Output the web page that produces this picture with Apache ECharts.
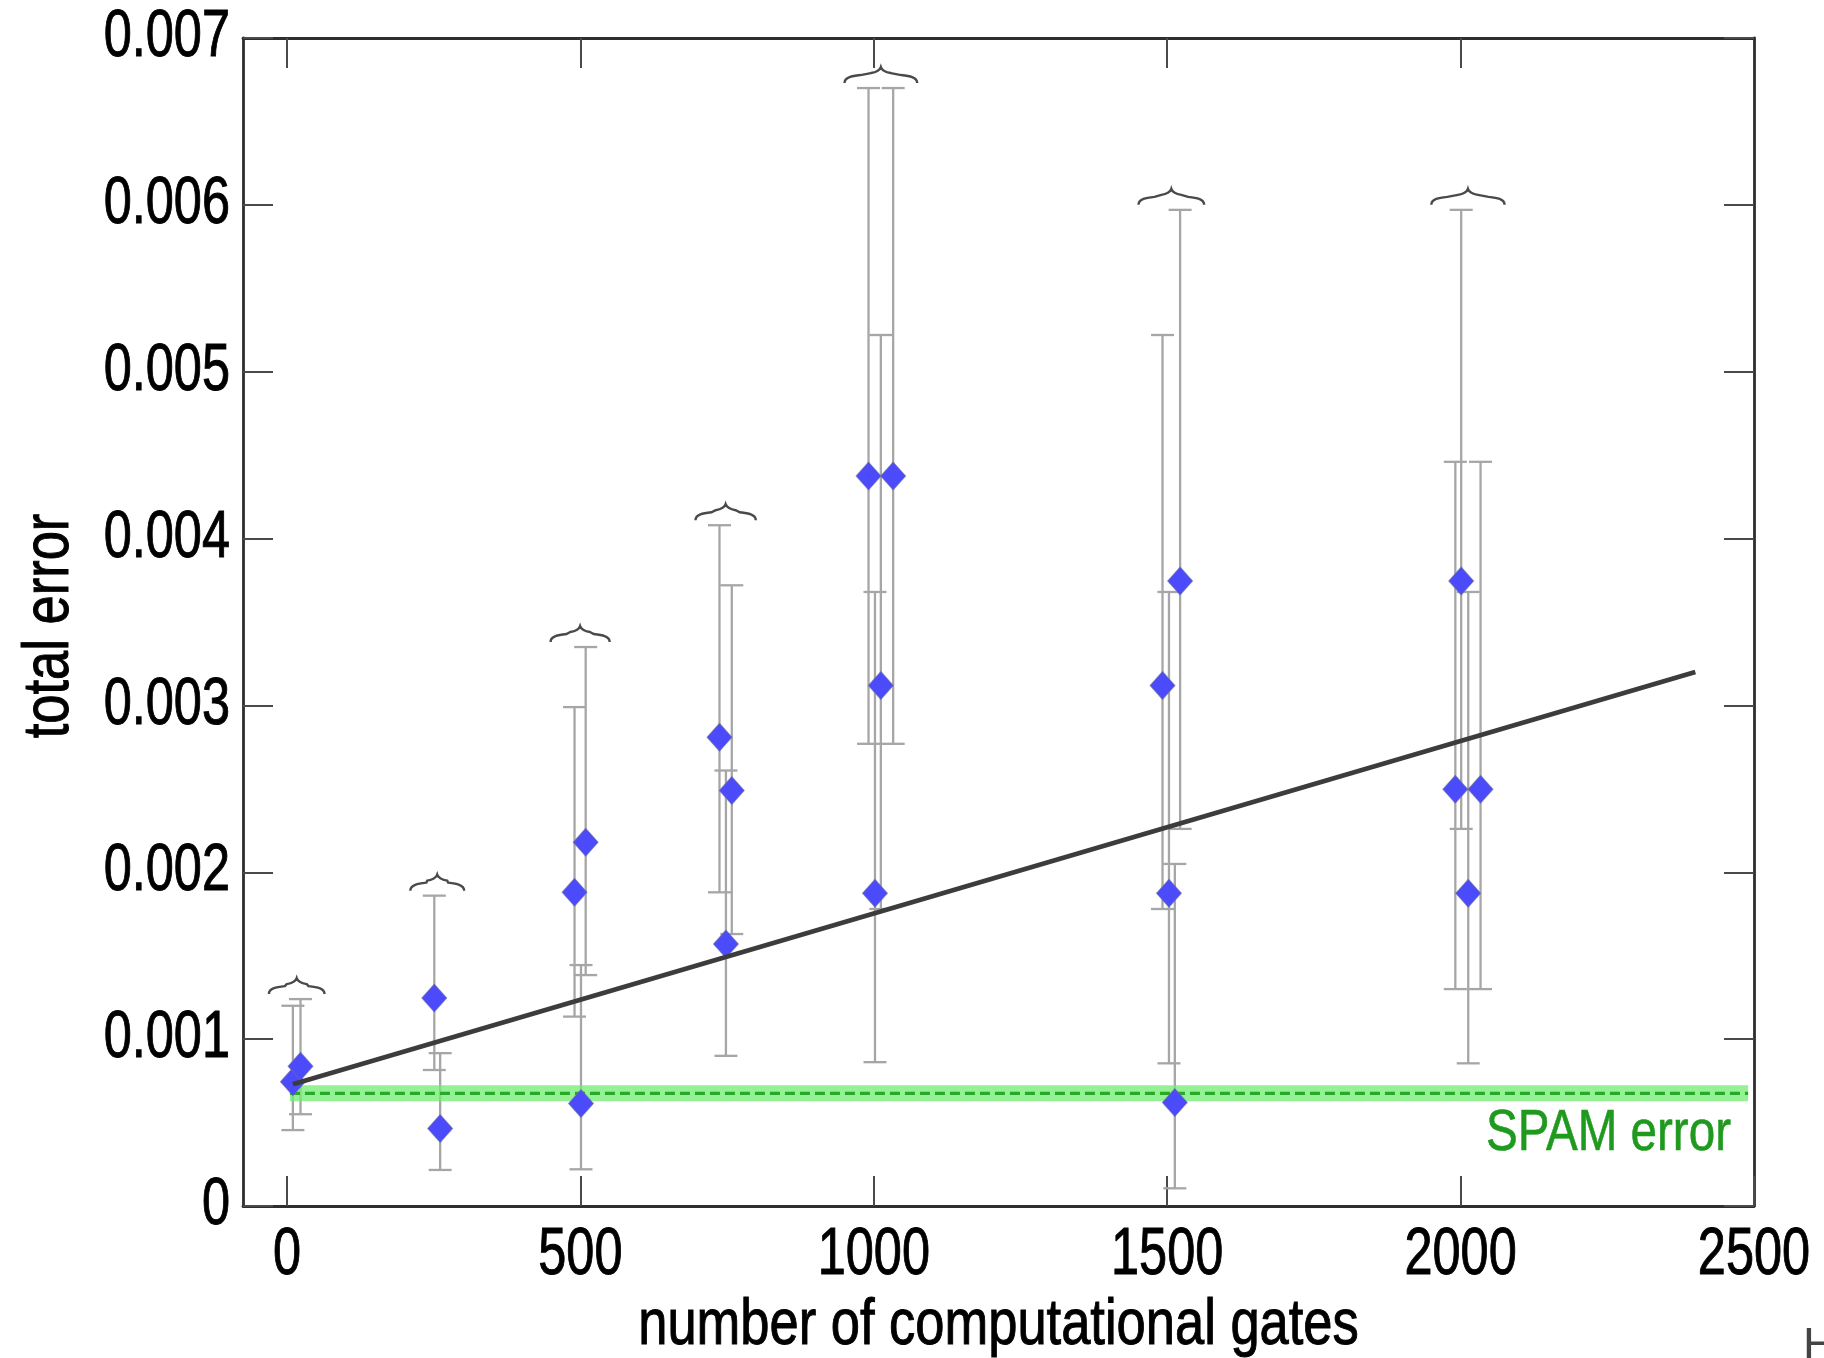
<!DOCTYPE html>
<html>
<head>
<meta charset="utf-8">
<script src="https://cdn.jsdelivr.net/npm/echarts@6/dist/echarts.min.js"></script>
<style>
html,body{margin:0;padding:0;background:#fff;}
#chart{width:1824px;height:1358px;}
</style>
</head>
<body>
<div id="chart"></div>
<script>
// ---------------- data ----------------
const groupCenters = [0, 250, 500, 750, 1000, 1500, 2000];
const gateX   = [10, 23, 251, 261, 490, 509, 501, 737, 758, 748, 991, 1033, 1012, 1002, 1492, 1522, 1503, 1513, 2001, 1991, 2034, 2013];
const totalErr= [0.000744, 0.000838, 0.001246, 0.000464, 0.00188, 0.00218, 0.000615, 0.00281, 0.00249, 0.00157, 0.004375, 0.004375, 0.00312, 0.001874, 0.00312, 0.003746, 0.001875, 0.00062, 0.003746, 0.002497, 0.002497, 0.001874];
const errLo   = [0.000455, 0.00055, 0.000815, 0.000216, 0.001135, 0.001384, 0.00022, 0.00188, 0.00163, 0.0009, 0.00277, 0.00277, 0.00178, 0.000862, 0.00178, 0.00226, 0.000855, 0.000106, 0.00226, 0.0013, 0.0013, 0.000855];
const errHi   = [0.0012, 0.00124, 0.00186, 0.000916, 0.00299, 0.00335, 0.001444, 0.00408, 0.00372, 0.00261, 0.0067, 0.0067, 0.00522, 0.00368, 0.00522, 0.00597, 0.00368, 0.00205, 0.00597, 0.00446, 0.00446, 0.00368];
const fitX = [10, 2400];
const fitY = [0.00073, 0.0032];
const spamX = [5, 2490];
const spamLevel = 0.000675;
const xTickValues = [0, 500, 1000, 1500, 2000, 2500];
const xTickLabels = ['0', '500', '1000', '1500', '2000', '2500'];
const xTopTicks = [0, 500, 1000, 1500, 2000];
const yTickValues = [0, 0.001, 0.002, 0.003, 0.004, 0.005, 0.006, 0.007];
const yTickLabels = ['0', '0.001', '0.002', '0.003', '0.004', '0.005', '0.006', '0.007'];
const xName = 'number of computational gates';
const yName = 'total error';
const spamLabel = 'SPAM error';

// ---------------- layout / style ----------------
const FONT = "'Liberation Sans',Arial,sans-serif";
const GRID = {left: 243, right: 70, top: 38, bottom: 152};
const W = 1824, H = 1358;
const plotBottom = H - GRID.bottom;
const NARROW = 0.765;

const points = gateX.map((x, i) => [x, totalErr[i]]);
const bars = gateX.map((x, i) => [x, errLo[i], errHi[i]]);
const braces = groupCenters.map(c => {
  const idx = gateX.map((x, i) => i).filter(i => Math.abs(gateX[i] - c) < 80);
  const xs = idx.map(i => gateX[i]);
  const top = Math.max(...idx.map(i => errHi[i]));
  return [(Math.min(...xs) + Math.max(...xs)) / 2, top, Math.min(...xs), Math.max(...xs)];
});

const chart = echarts.init(document.getElementById('chart'), null, {renderer: 'canvas'});

const tickStyle = {color: '#4a4a4a', width: 2};
const frameStyle = {color: '#2e2e2e', width: 2.8};

chart.setOption({
  animation: false,
  backgroundColor: '#fff',
  grid: Object.assign({containLabel: false}, GRID),
  xAxis: [
    {
      type: 'value', min: -75, max: 2500, position: 'bottom',
      axisLine: {show: true, onZero: false, lineStyle: frameStyle},
      axisTick: {show: true, inside: true, length: 30, customValues: xTickValues, lineStyle: tickStyle},
      axisLabel: {show: false},
      splitLine: {show: false}
    },
    {
      type: 'value', min: -75, max: 2500, position: 'top',
      axisLine: {show: true, onZero: false, lineStyle: frameStyle},
      axisTick: {show: true, inside: true, length: 30, customValues: xTopTicks, lineStyle: tickStyle},
      axisLabel: {show: false},
      splitLine: {show: false}
    }
  ],
  yAxis: [
    {
      type: 'value', min: 0, max: 0.007, interval: 0.001, position: 'left',
      axisLine: {show: true, onZero: false, lineStyle: frameStyle},
      axisTick: {show: true, inside: true, length: 30, lineStyle: tickStyle},
      axisLabel: {show: false},
      splitLine: {show: false}
    },
    {
      type: 'value', min: 0, max: 0.007, interval: 0.001, position: 'right',
      axisLine: {show: true, onZero: false, lineStyle: frameStyle},
      axisTick: {show: true, inside: true, length: 30, lineStyle: tickStyle},
      axisLabel: {show: false},
      splitLine: {show: false}
    }
  ],
  series: [
    {
      type: 'custom', name: 'braces', z: 2, silent: true,
      data: braces,
      encode: {x: [0, 2, 3], y: 1},
      renderItem: function (params, api) {
        const c = api.coord([api.value(0), api.value(1)]);
        const pl = api.coord([api.value(2), api.value(1)]);
        const pr = api.coord([api.value(3), api.value(1)]);
        const cx = c[0];
        const L = pl[0] - 24, R = pr[0] + 24;
        const ye = c[1] - 5;
        const d = `M${L},${ye} C${L},${ye-6} ${L+8},${ye-7} ${L+16},${ye-8} L${cx-10},${ye-10} C${cx-4},${ye-11} ${cx-1},${ye-13} ${cx},${ye-16} C${cx+1},${ye-13} ${cx+4},${ye-11} ${cx+10},${ye-10} L${R-16},${ye-8} C${R-8},${ye-7} ${R},${ye-6} ${R},${ye}`;
        return {type: 'path', shape: {pathData: d}, style: {fill: null, stroke: '#4a4a4a', lineWidth: 2.4}};
      }
    },
    {
      type: 'custom', name: 'error bars', z: 3, silent: true,
      data: bars,
      encode: {x: 0, y: [1, 2]},
      renderItem: function (params, api) {
        const x = api.value(0);
        const lo = api.coord([x, api.value(1)]);
        const hi = api.coord([x, api.value(2)]);
        const hw = 11.5;
        const st = {stroke: '#a6a6a6', lineWidth: 2.3};
        return {type: 'group', children: [
          {type: 'line', shape: {x1: lo[0], y1: lo[1], x2: hi[0], y2: hi[1]}, style: st},
          {type: 'line', shape: {x1: hi[0]-hw, y1: hi[1], x2: hi[0]+hw, y2: hi[1]}, style: st},
          {type: 'line', shape: {x1: lo[0]-hw, y1: lo[1], x2: lo[0]+hw, y2: lo[1]}, style: st}
        ]};
      }
    },
    {
      type: 'line', name: 'spam band', z: 4, silent: true, symbol: 'none',
      data: spamX.map(x => [x, spamLevel]),
      lineStyle: {color: 'rgba(112,236,112,0.75)', width: 16}
    },
    {
      type: 'line', name: 'spam', z: 5, silent: true, symbol: 'none',
      data: spamX.map(x => [x, spamLevel]),
      lineStyle: {color: '#2aa82a', width: 3.4, type: [10, 5]}
    },
    {
      type: 'scatter', name: 'total error', z: 6, silent: true,
      data: points, symbol: 'diamond', symbolSize: [25, 28],
      itemStyle: {color: '#4b4bfb', borderColor: 'rgba(110,110,150,0.6)', borderWidth: 1, opacity: 1}
    },
    {
      type: 'line', name: 'fit', z: 7, silent: true, symbol: 'none',
      data: fitX.map((x, i) => [x, fitY[i]]),
      lineStyle: {color: '#3c3c3c', width: 4.8}
    }
  ]
});

// ---------------- text (tick labels, axis names) as condensed text ----------------
const graphics = [];
const txt = (extra) => Object.assign({fontFamily: FONT, fill: '#000', stroke: '#000', lineWidth: 1}, extra);
xTickValues.forEach((v, i) => {
  const px = chart.convertToPixel({xAxisIndex: 0}, v);
  graphics.push({type: 'text', x: px, y: plotBottom + 50, scaleX: NARROW, z: 100, silent: true,
    style: txt({text: xTickLabels[i], fontSize: 66, align: 'center', verticalAlign: 'middle'})});
});
yTickValues.forEach((v, i) => {
  const py = chart.convertToPixel({yAxisIndex: 0}, v);
  graphics.push({type: 'text', x: GRID.left - 13, y: py, scaleX: NARROW, z: 100, silent: true,
    style: txt({text: yTickLabels[i], fontSize: 66, align: 'right', verticalAlign: 'middle'})});
});
const plotMidX = (GRID.left + (W - GRID.right)) / 2;
const plotMidY = (GRID.top + plotBottom) / 2;
graphics.push({type: 'text', x: plotMidX, y: plotBottom + 120, scaleX: 0.82, z: 100, silent: true,
  style: txt({text: xName, fontSize: 64, align: 'center', verticalAlign: 'middle'})});
graphics.push({type: 'text', x: 50, y: plotMidY + 4, rotation: Math.PI / 2, scaleX: 0.82, z: 100, silent: true,
  style: txt({text: yName, fontSize: 64, align: 'center', verticalAlign: 'middle'})});
graphics.push({type: 'text', x: W - GRID.right - 23, y: chart.convertToPixel({yAxisIndex: 0}, spamLevel) + 41, scaleX: 0.82, z: 100, silent: true,
  style: txt({text: spamLabel, fontSize: 58, fill: '#1f9a1f', stroke: '#1f9a1f', lineWidth: 0.6, align: 'right', verticalAlign: 'middle'})});
graphics.push({type: 'text', x: 1803, y: 1324, z: 100, silent: true,
  style: {text: 'H', fontSize: 46, fontFamily: FONT, fill: '#444', align: 'left', verticalAlign: 'top'}});
chart.setOption({graphic: graphics});
</script>
</body>
</html>
